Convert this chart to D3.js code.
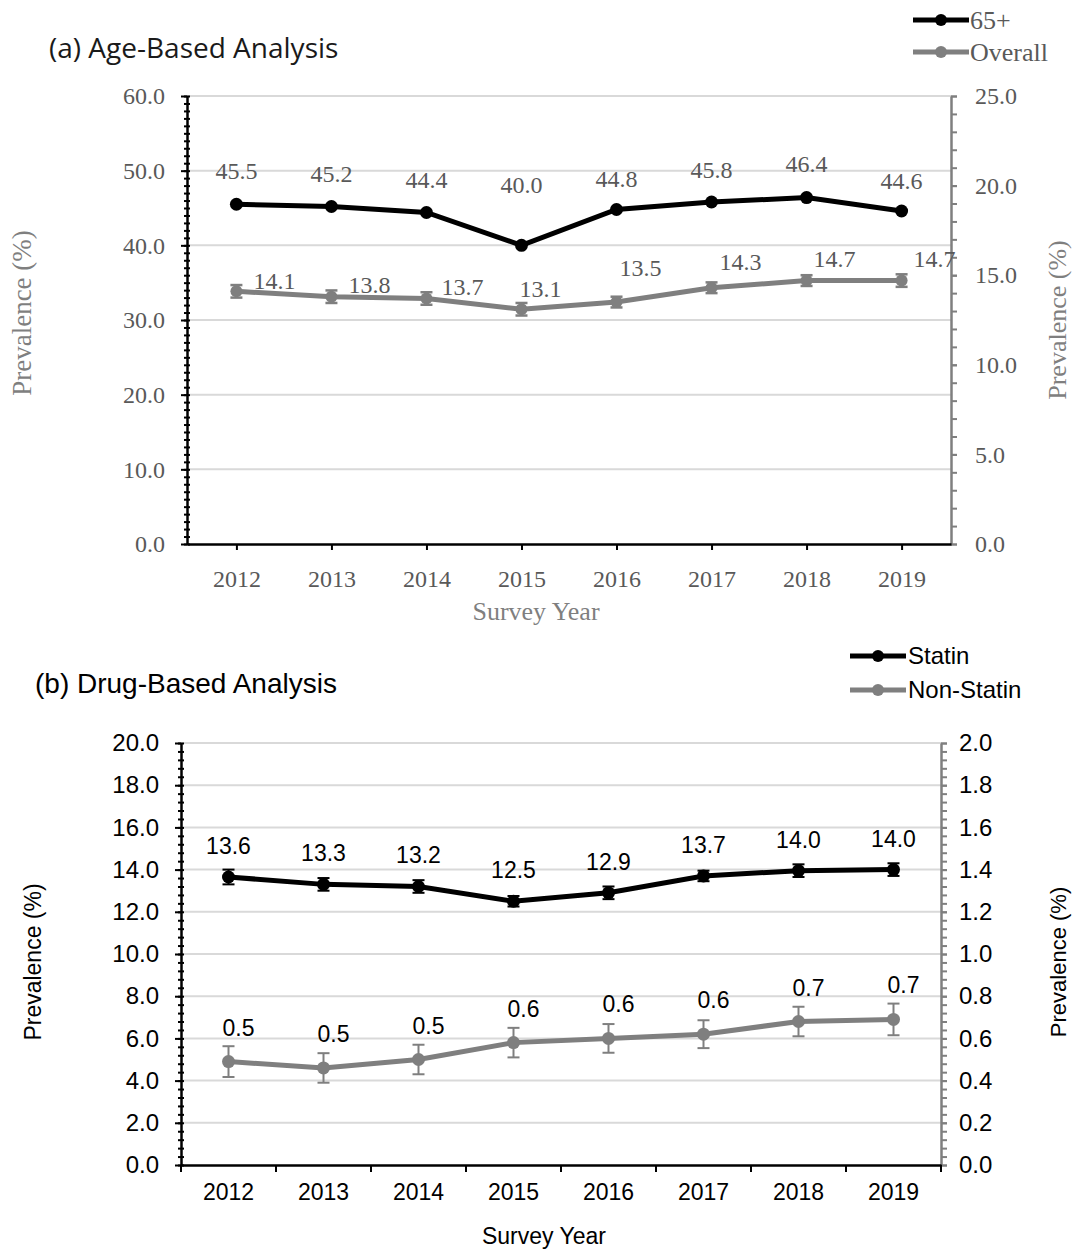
<!DOCTYPE html>
<html>
<head>
<meta charset="utf-8">
<script src="https://cdn.jsdelivr.net/npm/d3@7"></script>
<style>
  body { margin: 0; background: #fff; }
  svg { display: block; }
</style>
</head>
<body>
<div id="chart"></div>
<script>
// data
const years = ["2012", "2013", "2014", "2015", "2016", "2017", "2018", "2019"];

// (a) age-based
const age65 = [45.5, 45.2, 44.4, 40.0, 44.8, 45.8, 46.4, 44.6];
const overall = [14.1, 13.8, 13.7, 13.1, 13.5, 14.3, 14.7, 14.7];
const overallErr = [0.35, 0.35, 0.35, 0.35, 0.3, 0.3, 0.3, 0.35];
const ticksALeft = [0, 10, 20, 30, 40, 50, 60];
const ticksARight = [0, 5, 10, 15, 20, 25];

// label nudges (px, label centre relative to its point), as placed in the original
const age65LabelDy = [-33, -32, -32, -60, -30, -32, -33, -30];
const overallLabelDx = [38, 38, 36, 19, 24, 29, 28, 33];
const overallLabelDy = [-10, -12, -11, -20, -34, -26, -21, -21];

// (b) drug-based
const statin = [13.65, 13.3, 13.2, 12.5, 12.9, 13.7, 13.95, 14.0];
const statinErr = [0.35, 0.3, 0.3, 0.25, 0.3, 0.25, 0.3, 0.3];
const statinLabels = ["13.6", "13.3", "13.2", "12.5", "12.9", "13.7", "14.0", "14.0"];
const nonStatin = [0.49, 0.46, 0.50, 0.58, 0.60, 0.62, 0.68, 0.69];
const nonStatinErr = [0.073, 0.07, 0.07, 0.07, 0.068, 0.066, 0.07, 0.075];
const nonStatinLabels = ["0.5", "0.5", "0.5", "0.6", "0.6", "0.6", "0.7", "0.7"];
const ticksBLeft = d3.range(0, 20.1, 2);
const ticksBRight = d3.range(0, 2.01, 0.2);

const W = 1073, H = 1252;
const grey = "#7f7f7f";
const textGrey = "#595959";
const gridColor = "#d9d9d9";
const serif = "'Palatino Linotype', 'Book Antiqua', 'Liberation Serif', serif";
const sans = "'Liberation Sans', Arial, sans-serif";

const svg = d3.select("#chart")
    .append("svg")
    .attr("width", W)
    .attr("height", H);

const fmt1 = d3.format(".1f");

// ---------- panel (a) ----------
const a = { left: 187, right: 951, top: 96, bottom: 544 };

const xA = d3.scalePoint()
    .domain(years)
    .range([a.left, a.right])
    .padding(0.52);
const yAL = d3.scaleLinear().domain([0, 60]).range([a.bottom, a.top]);
const yAR = d3.scaleLinear().domain([0, 25]).range([a.bottom, a.top]);

const gA = svg.append("g");

// gridlines
gA.selectAll(".gridA")
    .data(ticksALeft.filter(d => d > 0))
    .enter()
    .append("line")
    .attr("x1", a.left)
    .attr("x2", a.right)
    .attr("y1", d => yAL(d))
    .attr("y2", d => yAL(d))
    .attr("stroke", gridColor)
    .attr("stroke-width", 2);

// left minor ticks (crossing)
gA.append("g")
    .attr("transform", `translate(${a.left + 3},0)`)
    .call(d3.axisLeft(yAL).tickValues(d3.range(0, 61, 1)).tickSize(6).tickFormat(""))
    .call(g => g.select(".domain").remove())
    .selectAll("line").attr("stroke", "#000").attr("stroke-width", 2);

// left axis
gA.append("g")
    .attr("transform", `translate(${a.left},0)`)
    .call(d3.axisLeft(yAL).tickValues(ticksALeft).tickFormat(fmt1).tickSize(6).tickPadding(16).tickSizeOuter(0))
    .call(g => g.select(".domain").attr("stroke", "#000").attr("stroke-width", 2.5))
    .call(g => g.selectAll("line").attr("stroke", "#000").attr("stroke-width", 2))
    .call(g => g.selectAll("text").attr("fill", textGrey).style("font-family", serif).style("font-size", "24px"));

// right minor ticks
gA.append("g")
    .attr("transform", `translate(${a.right},0)`)
    .call(d3.axisRight(yAR).tickValues(d3.range(0, 25.1, 1)).tickSize(6).tickFormat(""))
    .call(g => g.select(".domain").remove())
    .selectAll("line").attr("stroke", grey).attr("stroke-width", 2);

// right axis
gA.append("g")
    .attr("transform", `translate(${a.right},0)`)
    .call(d3.axisRight(yAR).tickValues(ticksARight).tickFormat(fmt1).tickSize(6).tickPadding(18).tickSizeOuter(0))
    .call(g => g.select(".domain").attr("stroke", grey).attr("stroke-width", 2.5))
    .call(g => g.selectAll("line").attr("stroke", grey).attr("stroke-width", 2))
    .call(g => g.selectAll("text").attr("fill", textGrey).style("font-family", serif).style("font-size", "24px"));

// bottom axis
gA.append("g")
    .attr("transform", `translate(0,${a.bottom})`)
    .call(d3.axisBottom(xA).tickSize(6).tickPadding(20).tickSizeOuter(0))
    .call(g => g.select(".domain").attr("stroke", "#000").attr("stroke-width", 2.5))
    .call(g => g.selectAll("line").attr("stroke", "#000").attr("stroke-width", 2))
    .call(g => g.selectAll("text").attr("fill", textGrey).style("font-family", serif).style("font-size", "24px"));

const lineAL = d3.line().x((d, i) => xA(years[i])).y(d => yAL(d));
const lineAR = d3.line().x((d, i) => xA(years[i])).y(d => yAR(d));

// overall series (right axis)
gA.append("path")
    .datum(overall)
    .attr("d", lineAR)
    .attr("fill", "none")
    .attr("stroke", grey)
    .attr("stroke-width", 5);

const errA = gA.selectAll(".errA")
    .data(overall)
    .enter()
    .append("g")
    .attr("stroke", grey)
    .attr("stroke-width", 2.5);
errA.append("line")
    .attr("x1", (d, i) => xA(years[i]))
    .attr("x2", (d, i) => xA(years[i]))
    .attr("y1", (d, i) => yAR(d - overallErr[i]))
    .attr("y2", (d, i) => yAR(d + overallErr[i]));
errA.append("line")
    .attr("x1", (d, i) => xA(years[i]) - 6)
    .attr("x2", (d, i) => xA(years[i]) + 6)
    .attr("y1", (d, i) => yAR(d - overallErr[i]))
    .attr("y2", (d, i) => yAR(d - overallErr[i]));
errA.append("line")
    .attr("x1", (d, i) => xA(years[i]) - 6)
    .attr("x2", (d, i) => xA(years[i]) + 6)
    .attr("y1", (d, i) => yAR(d + overallErr[i]))
    .attr("y2", (d, i) => yAR(d + overallErr[i]));

gA.selectAll(".dotOverall")
    .data(overall)
    .enter()
    .append("circle")
    .attr("cx", (d, i) => xA(years[i]))
    .attr("cy", d => yAR(d))
    .attr("r", 6)
    .attr("fill", grey);

gA.selectAll(".lblOverall")
    .data(overall)
    .enter()
    .append("text")
    .attr("x", (d, i) => xA(years[i]) + overallLabelDx[i])
    .attr("y", (d, i) => yAR(d) + overallLabelDy[i])
    .attr("dy", "0.33em")
    .attr("text-anchor", "middle")
    .attr("fill", textGrey)
    .style("font-family", serif)
    .style("font-size", "24px")
    .text(d => fmt1(d));

// 65+ series (left axis)
gA.append("path")
    .datum(age65)
    .attr("d", lineAL)
    .attr("fill", "none")
    .attr("stroke", "#000")
    .attr("stroke-width", 5);

gA.selectAll(".dot65")
    .data(age65)
    .enter()
    .append("circle")
    .attr("cx", (d, i) => xA(years[i]))
    .attr("cy", d => yAL(d))
    .attr("r", 6.5)
    .attr("fill", "#000");

gA.selectAll(".lbl65")
    .data(age65)
    .enter()
    .append("text")
    .attr("x", (d, i) => xA(years[i]))
    .attr("y", (d, i) => yAL(d) + age65LabelDy[i])
    .attr("dy", "0.33em")
    .attr("text-anchor", "middle")
    .attr("fill", textGrey)
    .style("font-family", serif)
    .style("font-size", "24px")
    .text(d => fmt1(d));

// titles
svg.append("text")
    .attr("x", 49)
    .attr("y", 58)
    .attr("fill", "#1a1a1a")
    .style("font-family", "'Open Sans', 'Noto Sans', sans-serif")
    .style("font-size", "28px")
    .text("(a) Age-Based Analysis");

svg.append("text")
    .attr("transform", `translate(31,313) rotate(-90)`)
    .attr("text-anchor", "middle")
    .attr("fill", grey)
    .style("font-family", serif)
    .style("font-size", "27px")
    .text("Prevalence (%)");

svg.append("text")
    .attr("transform", `translate(1066,320) rotate(-90)`)
    .attr("text-anchor", "middle")
    .attr("fill", grey)
    .style("font-family", serif)
    .style("font-size", "26px")
    .text("Prevalence (%)");

svg.append("text")
    .attr("x", 536)
    .attr("y", 620)
    .attr("text-anchor", "middle")
    .attr("fill", grey)
    .style("font-family", serif)
    .style("font-size", "26px")
    .text("Survey Year");

// legend (a)
const legendA = svg.selectAll(".legendA")
    .data([{ name: "65+", color: "#000" }, { name: "Overall", color: grey }])
    .enter()
    .append("g")
    .attr("transform", (d, i) => `translate(913,${20 + i * 32})`);
legendA.append("line")
    .attr("x1", 0).attr("x2", 56)
    .attr("stroke", d => d.color)
    .attr("stroke-width", 5);
legendA.append("circle")
    .attr("cx", 28).attr("r", 6)
    .attr("fill", d => d.color);
legendA.append("text")
    .attr("x", 57)
    .attr("dy", "0.35em")
    .attr("fill", textGrey)
    .style("font-family", serif)
    .style("font-size", "26px")
    .text(d => d.name);

// ---------- panel (b) ----------
const b = { left: 181, right: 941, top: 743, bottom: 1165 };

const xB = d3.scaleBand()
    .domain(years)
    .range([b.left, b.right]);
const yBL = d3.scaleLinear().domain([0, 20]).range([b.bottom, b.top]);
const yBR = d3.scaleLinear().domain([0, 2]).range([b.bottom, b.top]);
const cx = (i) => xB(years[i]) + xB.bandwidth() / 2;

const gB = svg.append("g");

gB.selectAll(".gridB")
    .data(ticksBLeft.filter(d => d > 0))
    .enter()
    .append("line")
    .attr("x1", b.left)
    .attr("x2", b.right)
    .attr("y1", d => yBL(d))
    .attr("y2", d => yBL(d))
    .attr("stroke", gridColor)
    .attr("stroke-width", 2);

gB.append("g")
    .attr("transform", `translate(${b.left + 3},0)`)
    .call(d3.axisLeft(yBL).tickValues(d3.range(0, 20.01, 0.4)).tickSize(6).tickFormat(""))
    .call(g => g.select(".domain").remove())
    .selectAll("line").attr("stroke", "#000").attr("stroke-width", 2);

gB.append("g")
    .attr("transform", `translate(${b.left},0)`)
    .call(d3.axisLeft(yBL).tickValues(ticksBLeft).tickFormat(fmt1).tickSize(6).tickPadding(16).tickSizeOuter(0))
    .call(g => g.select(".domain").attr("stroke", "#000").attr("stroke-width", 2.5))
    .call(g => g.selectAll("line").attr("stroke", "#000").attr("stroke-width", 2))
    .call(g => g.selectAll("text").attr("fill", "#000").style("font-family", sans).style("font-size", "24px"));

gB.append("g")
    .attr("transform", `translate(${b.right},0)`)
    .call(d3.axisRight(yBR).tickValues(d3.range(0, 2.001, 0.04)).tickSize(6).tickFormat(""))
    .call(g => g.select(".domain").remove())
    .selectAll("line").attr("stroke", grey).attr("stroke-width", 2);

gB.append("g")
    .attr("transform", `translate(${b.right},0)`)
    .call(d3.axisRight(yBR).tickValues(ticksBRight).tickFormat(fmt1).tickSize(6).tickPadding(12).tickSizeOuter(0))
    .call(g => g.select(".domain").attr("stroke", grey).attr("stroke-width", 2.5))
    .call(g => g.selectAll("line").attr("stroke", grey).attr("stroke-width", 2))
    .call(g => g.selectAll("text").attr("fill", "#000").style("font-family", sans).style("font-size", "24px"));

// bottom axis: labels centred in bands, ticks on band edges
gB.append("g")
    .attr("transform", `translate(0,${b.bottom})`)
    .call(d3.axisBottom(xB).tickSize(0).tickPadding(19).tickSizeOuter(0))
    .call(g => g.select(".domain").attr("stroke", "#000").attr("stroke-width", 2.5))
    .call(g => g.selectAll("text").attr("fill", "#000").style("font-family", sans).style("font-size", "23px"));

gB.selectAll(".tickB")
    .data(years.map(d => xB(d)).concat([b.right]))
    .enter()
    .append("line")
    .attr("x1", d => d)
    .attr("x2", d => d)
    .attr("y1", b.bottom)
    .attr("y2", b.bottom + 7)
    .attr("stroke", "#000")
    .attr("stroke-width", 2);

function drawSeries(g, values, errs, scale, color, labels, dx, dy) {
    g.append("path")
        .datum(values)
        .attr("d", d3.line().x((d, i) => cx(i)).y(d => scale(d)))
        .attr("fill", "none")
        .attr("stroke", color)
        .attr("stroke-width", 5);

    const err = g.selectAll(null)
        .data(values)
        .enter()
        .append("g")
        .attr("stroke", color)
        .attr("stroke-width", 2);
    err.append("line")
        .attr("x1", (d, i) => cx(i))
        .attr("x2", (d, i) => cx(i))
        .attr("y1", (d, i) => scale(d - errs[i]))
        .attr("y2", (d, i) => scale(d + errs[i]));
    [-1, 1].forEach(s => {
        err.append("line")
            .attr("x1", (d, i) => cx(i) - 6)
            .attr("x2", (d, i) => cx(i) + 6)
            .attr("y1", (d, i) => scale(d + s * errs[i]))
            .attr("y2", (d, i) => scale(d + s * errs[i]));
    });

    g.selectAll(null)
        .data(values)
        .enter()
        .append("circle")
        .attr("cx", (d, i) => cx(i))
        .attr("cy", d => scale(d))
        .attr("r", 6.5)
        .attr("fill", color);

    g.selectAll(null)
        .data(values)
        .enter()
        .append("text")
        .attr("x", (d, i) => cx(i) + dx)
        .attr("y", d => scale(d) + dy)
        .attr("text-anchor", "middle")
        .attr("fill", "#000")
        .style("font-family", sans)
        .style("font-size", "23px")
        .text((d, i) => labels[i]);
}

drawSeries(gB, nonStatin, nonStatinErr, yBR, grey, nonStatinLabels, 10, -26);
drawSeries(gB, statin, statinErr, yBL, "#000", statinLabels, 0, -23);

svg.append("text")
    .attr("x", 35)
    .attr("y", 693)
    .attr("fill", "#000")
    .style("font-family", sans)
    .style("font-size", "28px")
    .text("(b) Drug-Based Analysis");

svg.append("text")
    .attr("transform", `translate(41,962) rotate(-90)`)
    .attr("text-anchor", "middle")
    .attr("fill", "#000")
    .style("font-family", sans)
    .style("font-size", "23px")
    .text("Prevalence (%)");

svg.append("text")
    .attr("transform", `translate(1066,962) rotate(-90)`)
    .attr("text-anchor", "middle")
    .attr("fill", "#000")
    .style("font-family", sans)
    .style("font-size", "22px")
    .text("Prevalence (%)");

svg.append("text")
    .attr("x", 544)
    .attr("y", 1244)
    .attr("text-anchor", "middle")
    .attr("fill", "#000")
    .style("font-family", sans)
    .style("font-size", "23px")
    .text("Survey Year");

const legendB = svg.selectAll(".legendB")
    .data([{ name: "Statin", color: "#000" }, { name: "Non-Statin", color: grey }])
    .enter()
    .append("g")
    .attr("transform", (d, i) => `translate(850,${656 + i * 34})`);
legendB.append("line")
    .attr("x1", 0).attr("x2", 56)
    .attr("stroke", d => d.color)
    .attr("stroke-width", 5);
legendB.append("circle")
    .attr("cx", 28).attr("r", 6)
    .attr("fill", d => d.color);
legendB.append("text")
    .attr("x", 58)
    .attr("dy", "0.35em")
    .attr("fill", "#000")
    .style("font-family", sans)
    .style("font-size", "24px")
    .text(d => d.name);
</script>
</body>
</html>
